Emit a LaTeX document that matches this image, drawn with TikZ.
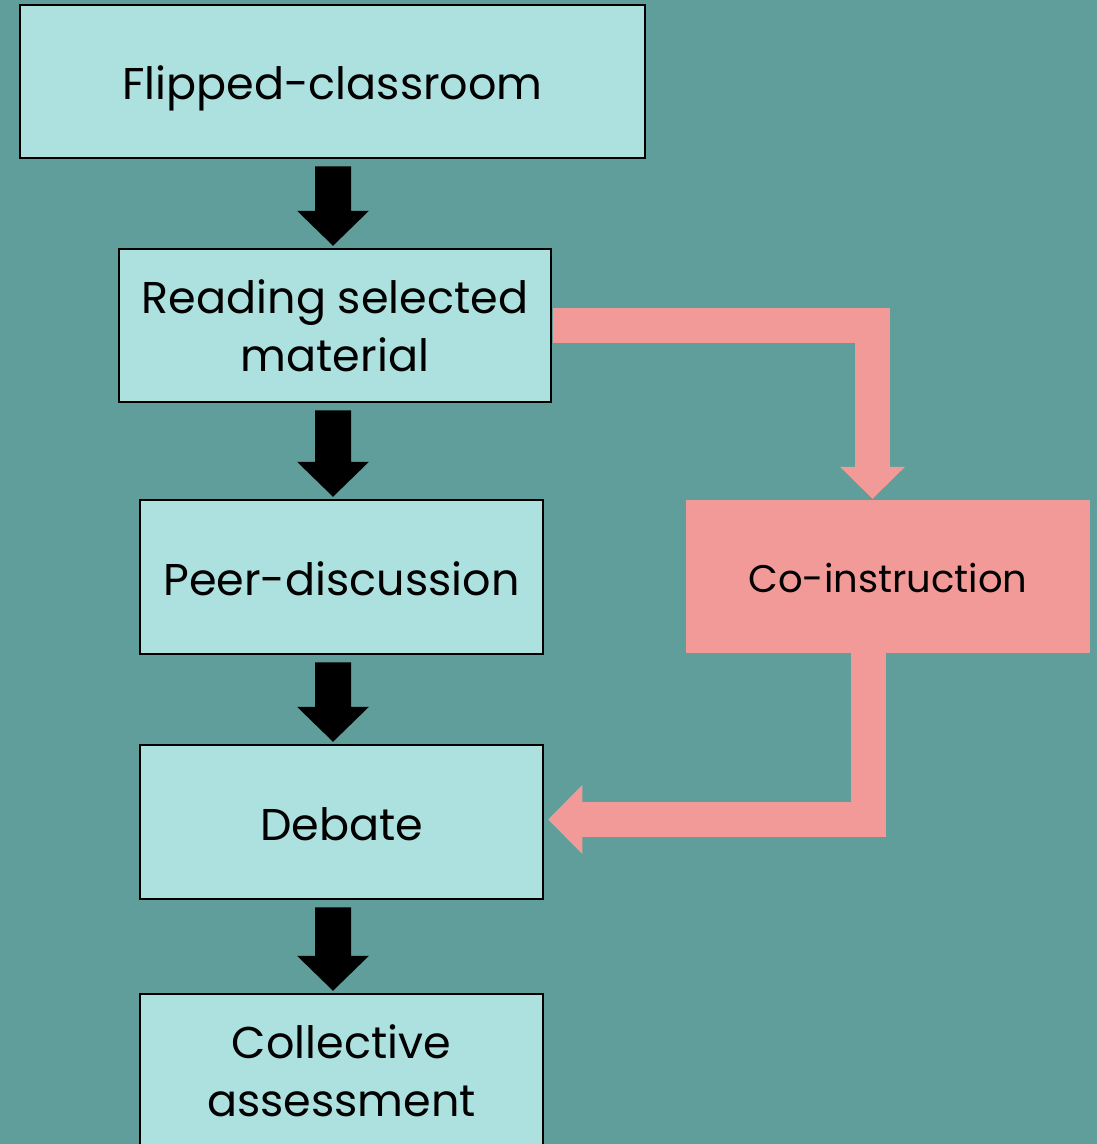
\documentclass[tikz,border=0pt]{standalone}
\usepackage{fontspec}
\setmainfont{Poppins}
\usetikzlibrary{calc}
\definecolor{bgteal}{HTML}{5F9E9A}
\definecolor{boxfill}{HTML}{ACE1DF}
\definecolor{pinkc}{HTML}{F29A97}
\tikzset{
  stepbox/.style={draw=black, line width=2.5pt, fill=boxfill, align=center, inner sep=0pt,
    font=\fontsize{44.5}{58}\selectfont},
  oneline/.style={text height=46pt, text depth=10pt},
  cobox/.style={fill=pinkc, align=center, inner sep=0pt, font=\fontsize{38.5}{48}\selectfont,
    text height=41pt, text depth=10pt},
  pinkline/.style={draw=pinkc, line width=35pt, line cap=butt, line join=miter},
}
\begin{document}
\begin{tikzpicture}[x=1pt,y=-1pt]
\fill[bgteal] (0,0) rectangle (1097,1144);
\useasboundingbox (0,0) rectangle (1097,1144);

\node[stepbox, oneline, minimum width=625pt, minimum height=153pt] (b1) at (332.5,81.5) {Flipped-classroom};
\node[stepbox, minimum width=432pt, minimum height=153pt] (b2) at (335,325.5) {Reading selected\\material};
\node[stepbox, oneline, minimum width=403pt, minimum height=154pt] (b3) at (341.5,577) {Peer-discussion};
\node[stepbox, oneline, minimum width=403pt, minimum height=154pt] (b4) at (341.5,822) {Debate};
\node[stepbox, minimum width=403pt, minimum height=154pt] (b5) at (341.5,1071) {Collective\\assessment};
\node[cobox, minimum width=404pt, minimum height=153pt] (co) at (888,576.5) {Co-instruction};

\coordinate (ax) at (333,0);
\coordinate (px1) at (872.5,0);
\coordinate (px2) at (868.5,0);

% black block arrows
\foreach \a/\b in {b1/b2, b2/b3, b3/b4, b4/b5}{
  \fill[black] let \p1=($(ax |- \a.south)+(0,7)$), \p2=($(ax |- \b.north)+(0,-2)$) in
    (\x1-18pt,\y1) -- (\x1+18pt,\y1) -- (\x1+18pt,\y2+35pt) -- (\x1+36pt,\y2+35pt)
    -- (\x2,\y2) -- (\x1-36pt,\y2+35pt) -- (\x1-18pt,\y2+35pt) -- cycle;
}

% pink arrow from reading to co-instruction
\coordinate (t1) at ($(px1 |- co.north)+(0,-1)$);
\draw[pinkline] ($(b2.east)+(1,0)$) -| ($(t1)+(0,-32)$);
\fill[pinkc] let \p1=(t1) in (\x1-32.5pt,\y1+32pt) -- (\x1+32.5pt,\y1+32pt) -- (\x1,\y1) -- cycle;

% pink arrow from co-instruction to debate
\coordinate (t2) at ($(b4.east)+(4,-2.5)$);
\draw[pinkline] (px2 |- co.south) |- ($(t2)+(34,0)$);
\fill[pinkc] let \p1=(t2) in (\x1,\y1) -- (\x1+34pt,\y1+34.5pt) -- (\x1+34pt,\y1-34.5pt) -- cycle;
\end{tikzpicture}
\end{document}
